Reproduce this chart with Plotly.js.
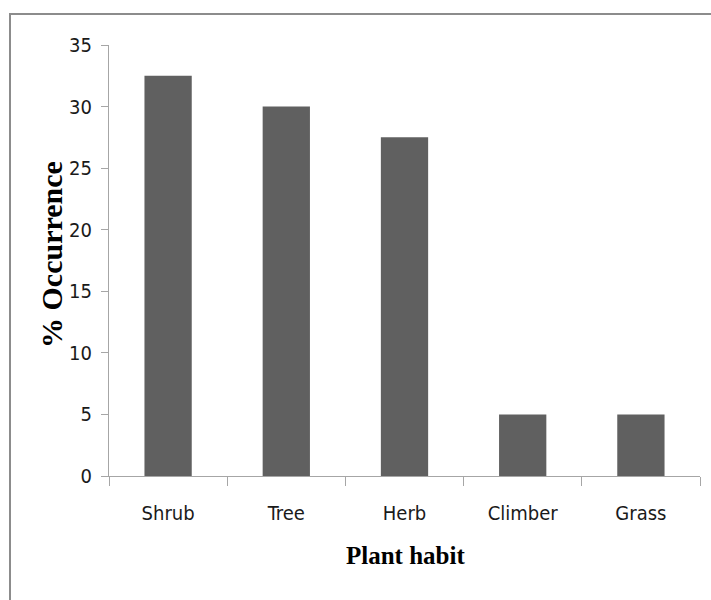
<!DOCTYPE html>
<html>
<head>
<meta charset="utf-8">
<script src="https://cdn.plot.ly/plotly-3.0.1.min.js"></script>
<style>
html, body { margin: 0; padding: 0; background: #fff; }
#chart { width: 711px; height: 600px; }
</style>
</head>
<body>
<div id="chart"></div>
<script>
const categories = ["Shrub", "Tree", "Herb", "Climber", "Grass"];
const occurrence = [32.5, 30, 27.5, 5, 5];
const yTicks = [0, 5, 10, 15, 20, 25, 30, 35];
const xTitle = "Plant habit";
const yTitle = "% Occurrence";

const narrow = "'Liberation Sans Narrow', 'DejaVu Sans Condensed', 'Arial Narrow', sans-serif";
const serif = "'Liberation Serif', 'Times New Roman', serif";

const trace = {
  type: "bar",
  x: categories,
  y: occurrence,
  width: 0.4,
  marker: { color: "#606060" },
  hoverinfo: "skip"
};

const layout = {
  width: 711,
  height: 600,
  margin: { l: 109, r: 11, t: 45, b: 124 },
  paper_bgcolor: "#ffffff",
  plot_bgcolor: "#ffffff",
  showlegend: false,
  xaxis: {
    type: "category",
    tickson: "boundaries",
    ticks: "outside",
    ticklen: 9,
    tickcolor: "#a6a6a6",
    showline: true,
    linecolor: "#a6a6a6",
    linewidth: 1,
    showgrid: false,
    zeroline: false,
    tickfont: { family: narrow, size: 20, color: "#1a1a1a" },
    ticklabelstandoff: 19,
    automargin: false
  },
  yaxis: {
    range: [0, 35],
    tickvals: yTicks,
    ticktext: yTicks.map(String),
    ticks: "outside",
    ticklen: 7,
    tickcolor: "#a6a6a6",
    showline: true,
    linecolor: "#a6a6a6",
    linewidth: 1,
    showgrid: false,
    zeroline: false,
    tickfont: { family: narrow, size: 20, color: "#1a1a1a" },
    ticklabelstandoff: 5,
    automargin: false
  },
  annotations: [
    {
      text: xTitle, xref: "paper", yref: "paper",
      x: (405 - 109) / 591, y: (476 - 555) / 431,
      xanchor: "center", yanchor: "middle", showarrow: false,
      font: { family: serif, size: 25, color: "#000", weight: "bold" }
    },
    {
      text: yTitle, xref: "paper", yref: "paper",
      x: (51 - 109) / 591, y: (476 - 255) / 431,
      xanchor: "center", yanchor: "middle", showarrow: false, textangle: -90,
      font: { family: serif, size: 30, color: "#000", weight: "bold" }
    }
  ],
  shapes: [{
    type: "rect",
    xref: "paper", yref: "paper",
    x0: (10 - 109) / 591, x1: (725 - 109) / 591,
    y0: (476 - 14) / 431, y1: (476 - 610) / 431,
    line: { color: "#8c8c8c", width: 2 },
    fillcolor: "rgba(0,0,0,0)",
    layer: "below"
  }]
};

Plotly.newPlot("chart", [trace], layout, { displayModeBar: false, staticPlot: true });
</script>
</body>
</html>
